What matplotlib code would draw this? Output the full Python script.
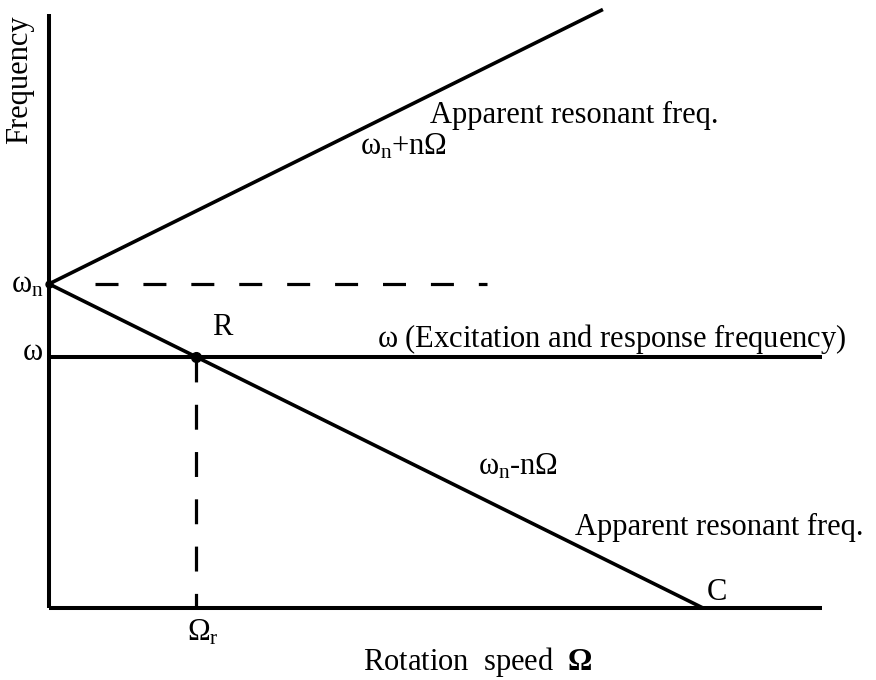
import matplotlib
matplotlib.use("Agg")
import matplotlib.pyplot as plt

plt.rcParams['font.family'] = ['Liberation Serif', 'DejaVu Serif']
plt.rcParams['mathtext.fontset'] = 'custom'
plt.rcParams['mathtext.rm'] = 'Liberation Serif'
plt.rcParams['mathtext.it'] = 'Liberation Serif'
plt.rcParams['mathtext.bf'] = 'Liberation Serif:bold'

# campbell-type diagram, everything in normalised units (omega_n = 1)
omega_n = 1.0
n_slope = 1.0
omega_exc = 0.775
speed_max = 1.182
freq_max = 1.833
upper_end = 0.847        # where the w_n + n*Omega line stops
dash_start = 0.07
dash_end = 0.67          # end of the dashed w_n reference line

speed_upper = [0.0, upper_end]
freq_upper = [omega_n + n_slope * s for s in speed_upper]
speed_lower = [0.0, omega_n / n_slope]
freq_lower = [omega_n - n_slope * s for s in speed_lower]
speed_r = (omega_n - omega_exc) / n_slope   # resonance point R

fig = plt.figure(figsize=(8.76, 6.80), dpi=100)
ax = fig.add_axes([49 / 876, 72 / 680, 773 / 876, 594 / 680])
ax.set_xlim(0, speed_max)
ax.set_ylim(0, freq_max)
ax.set_xticks([])
ax.set_yticks([])
for side in ('top', 'right'):
    ax.spines[side].set_visible(False)
for side in ('left', 'bottom'):
    ax.spines[side].set_linewidth(2.9)
    ax.spines[side].set_capstyle('butt')

k = dict(color='black', clip_on=False, solid_capstyle='butt')
ax.plot(speed_upper, freq_upper, lw=2.6, **k)
ax.plot(speed_lower, freq_lower, lw=2.6, **k)
ax.plot([0, speed_max], [omega_exc, omega_exc], lw=2.9, **k)

# dashed guide lines
ax.plot([dash_start, dash_end], [omega_n, omega_n], color='black', lw=2.3,
        dashes=(7.2, 7.8), dash_capstyle='butt')
ax.plot([speed_r, speed_r], [omega_exc, 0], color='black', lw=2.3,
        dashes=(7.8, 7.0), dash_capstyle='butt', clip_on=False)

ax.plot([speed_r], [omega_exc], 'o', color='black', ms=7, clip_on=False)
ax.plot([0], [omega_n], 'o', color='black', ms=5, clip_on=False)

fs = 22
ax.text(-0.009, 0.975, r'$\omega_{\rm n}$', fontsize=fs, ha='right', va='baseline')
ax.text(-0.009, 0.765, r'$\omega$', fontsize=fs, ha='right', va='baseline')
ax.text(-0.045, 1.63, 'Frequency', fontsize=fs, rotation=90, ha='center', va='center')

ax.text(speed_r + 0.04, 0.867, 'R', fontsize=fs, ha='center', va='center')
ax.text(0.5015, 0.806, r'$\omega$ (Excitation and response frequency)',
        fontsize=fs, ha='left', va='baseline')
ax.text(0.5826, 1.497, 'Apparent resonant freq.', fontsize=fs, ha='left', va='baseline')
ax.text(0.4755, 1.398, r'$\omega_{\rm n}$+n$\Omega$', fontsize=fs, ha='left', va='baseline')
ax.text(0.656, 0.4105, r'$\omega_{\rm n}$-n$\Omega$', fontsize=fs, ha='left', va='baseline')
ax.text(0.804, 0.2253, 'Apparent resonant freq.', fontsize=fs, ha='left', va='baseline')
ax.text(1.006, 0.0247, 'C', fontsize=fs, ha='left', va='baseline')
ax.text(0.211, -0.099, r'$\Omega_{\rm r}$', fontsize=fs, ha='left', va='baseline')
ax.text(0.48, -0.19, r'Rotation  speed  $\mathbf{\Omega}$', fontsize=fs,
        ha='left', va='baseline')

fig.savefig('out.png', dpi=100)
